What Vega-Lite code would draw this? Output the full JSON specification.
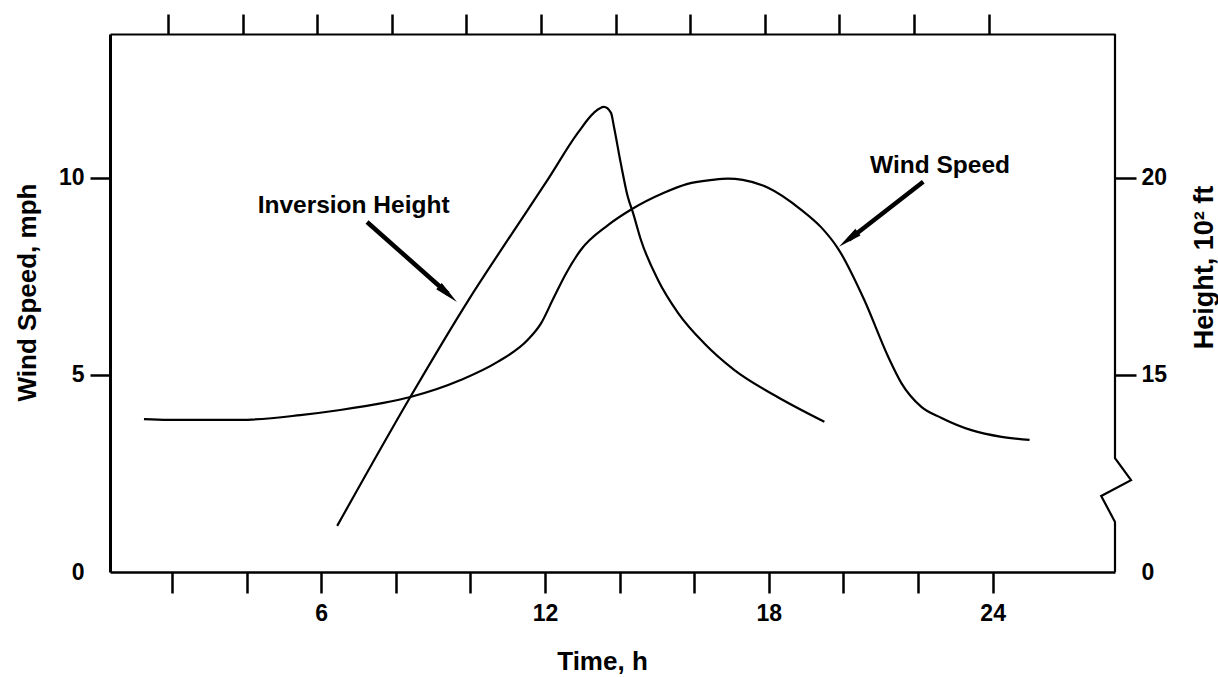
{
  "$schema": "https://vega.github.io/schema/vega-lite/v6.json",
  "width": 1005,
  "height": 538,
  "autosize": "none",
  "padding": {"left": 110, "top": 34, "right": 103, "bottom": 105},
  "background": "white",
  "config": {
    "view": {"stroke": null},
    "font": "Liberation Sans",
    "axis": {
      "grid": false,
      "domainColor": "black",
      "tickColor": "black",
      "labelColor": "black",
      "titleColor": "black",
      "labelFont": "Liberation Sans",
      "titleFont": "Liberation Sans",
      "labelFontWeight": "bold",
      "titleFontWeight": "bold",
      "labelFontSize": 23,
      "titleFontSize": 26,
      "domainWidth": 2.5,
      "tickWidth": 2.5,
      "tickSize": 21
    }
  },
  "datasets": {
    "wind": [
      {"t": 1.25, "v": 3.88}, {"t": 1.89, "v": 3.86}, {"t": 3.83, "v": 3.86}, {"t": 5.44, "v": 3.98},
      {"t": 6.51, "v": 4.11}, {"t": 7.67, "v": 4.29}, {"t": 8.39, "v": 4.44}, {"t": 9.74, "v": 4.87},
      {"t": 10.73, "v": 5.33}, {"t": 11.54, "v": 5.89}, {"t": 11.89, "v": 6.3}, {"t": 12.23, "v": 6.95},
      {"t": 12.55, "v": 7.55}, {"t": 12.96, "v": 8.17}, {"t": 13.69, "v": 8.8}, {"t": 14.3, "v": 9.19},
      {"t": 15.19, "v": 9.62}, {"t": 15.8, "v": 9.84}, {"t": 16.5, "v": 9.95}, {"t": 16.9, "v": 9.98},
      {"t": 17.3, "v": 9.95}, {"t": 17.98, "v": 9.75}, {"t": 18.87, "v": 9.19}, {"t": 19.4, "v": 8.75},
      {"t": 19.86, "v": 8.2}, {"t": 20.56, "v": 6.9}, {"t": 21.2, "v": 5.46}, {"t": 21.55, "v": 4.8},
      {"t": 22.09, "v": 4.19}, {"t": 22.63, "v": 3.91}, {"t": 23.43, "v": 3.6}, {"t": 24.24, "v": 3.43},
      {"t": 24.99, "v": 3.35}
    ],
    "inversion": [
      {"t": 6.43, "h": 11.17}, {"t": 8.39, "h": 14.44}, {"t": 9.95, "h": 16.9}, {"t": 11.16, "h": 18.65},
      {"t": 12.07, "h": 19.95}, {"t": 12.88, "h": 21.14}, {"t": 13.31, "h": 21.65}, {"t": 13.58, "h": 21.8},
      {"t": 13.77, "h": 21.65}, {"t": 13.85, "h": 21.29}, {"t": 14.03, "h": 20.38}, {"t": 14.22, "h": 19.52},
      {"t": 14.36, "h": 19.11}, {"t": 14.57, "h": 18.43}, {"t": 15.03, "h": 17.41}, {"t": 15.57, "h": 16.57},
      {"t": 16.26, "h": 15.81}, {"t": 17.07, "h": 15.13}, {"t": 18.14, "h": 14.49}, {"t": 19.49, "h": 13.81}
    ],
    "edge": [
      {"i": 0, "t": 27.28, "v": 13.65}, {"i": 1, "t": 27.28, "v": 2.89}, {"i": 2, "t": 27.71, "v": 2.33},
      {"i": 3, "t": 26.91, "v": 1.93}, {"i": 4, "t": 27.28, "v": 1.27}, {"i": 5, "t": 27.28, "v": 0}
    ],
    "arrows": [
      {"label": "Inversion Height", "t": 7.23, "v": 8.88, "t2": 9.4, "v2": 7.06},
      {"label": "Wind Speed", "t": 22.14, "v": 9.9, "t2": 20.14, "v2": 8.43}
    ],
    "heads": [
      {"label": "Inversion Height", "t": 9.64, "v": 6.85},
      {"label": "Wind Speed", "t": 19.88, "v": 8.25}
    ],
    "labels": [
      {"label": "Inversion Height", "t": 6.87, "v": 9.11},
      {"label": "Wind Speed", "t": 22.59, "v": 10.13}
    ]
  },
  "resolve": {"scale": {"x": "independent", "y": "independent"}},
  "layer": [
    {
      "encoding": {
        "x": {
          "field": "t", "type": "quantitative", "title": "Time, h",
          "scale": {"domain": [0.34, 27.28], "nice": false, "zero": false},
          "axis": {
            "orient": "bottom",
            "values": [2, 4, 6, 8, 10, 12, 14, 16, 18, 20, 22, 24],
            "labelExpr": "datum.value % 6 === 0 ? datum.label : ''",
            "tickSize": 21,
            "labelPadding": 9,
            "labelDx": 7,
            "titleX": 492,
            "titleY": 97,
            "titleBaseline": "alphabetic",
            "titleAlign": "center"
          }
        },
        "y": {
          "field": "v", "type": "quantitative", "title": "Wind Speed, mph",
          "scale": {"domain": [0, 13.65], "nice": false, "zero": false},
          "axis": {
            "orient": "left",
            "values": [0, 5, 10],
            "tickSize": 20,
            "labelPadding": 6,
            "domainWidth": 3,
            "tickOpacity": {"condition": {"test": "datum.value === 0", "value": 0}, "value": 1},
            "titleAngle": -90,
            "titleX": -75,
            "titleY": 258,
            "titleBaseline": "alphabetic",
            "titleAlign": "center"
          }
        }
      },
      "layer": [
        {
          "data": {"name": "wind"},
          "mark": {"type": "line", "interpolate": "monotone", "color": "black", "strokeWidth": 2.2}
        },
        {
          "data": {"name": "edge"},
          "mark": {"type": "line", "color": "black", "strokeWidth": 2.2},
          "encoding": {"order": {"field": "i", "type": "quantitative"}}
        },
        {
          "data": {"name": "arrows"},
          "mark": {"type": "rule", "color": "black", "strokeWidth": 4.5},
          "encoding": {"x2": {"field": "t2"}, "y2": {"field": "v2"}}
        },
        {
          "data": {"name": "heads"},
          "transform": [{"filter": "datum.label === 'Inversion Height'"}],
          "mark": {"type": "point", "shape": "M0,0L-0.35,2L0.35,2Z", "filled": true, "color": "black", "opacity": 1, "size": 576, "angle": 131.6, "strokeWidth": 0}
        },
        {
          "data": {"name": "heads"},
          "transform": [{"filter": "datum.label === 'Wind Speed'"}],
          "mark": {"type": "point", "shape": "M0,0L-0.35,2L0.35,2Z", "filled": true, "color": "black", "opacity": 1, "size": 576, "angle": 232.3, "strokeWidth": 0}
        },
        {
          "data": {"name": "labels"},
          "mark": {"type": "text", "font": "Liberation Sans", "fontWeight": "bold", "fontSize": 24.5, "align": "center", "baseline": "alphabetic", "color": "black"},
          "encoding": {"text": {"field": "label"}}
        }
      ]
    },
    {
      "data": {"name": "inversion"},
      "mark": {"type": "line", "interpolate": "monotone", "color": "black", "strokeWidth": 2.2},
      "encoding": {
        "x": {
          "field": "t", "type": "quantitative",
          "scale": {"domain": [0.34, 27.28], "nice": false, "zero": false},
          "axis": {
            "orient": "top",
            "values": [2, 4, 6, 8, 10, 12, 14, 16, 18, 20, 22, 24],
            "labels": false,
            "title": null,
            "tickSize": 20,
            "tickOffset": -4,
            "domainWidth": 2.2
          }
        },
        "y": {
          "field": "h", "type": "quantitative",
          "scale": {"domain": [10, 23.65], "nice": false, "zero": false},
          "axis": {
            "orient": "right",
            "values": [10, 15, 20],
            "labelExpr": "datum.value === 10 ? '0' : datum.label",
            "tickOpacity": {"condition": {"test": "datum.value === 10", "value": 0}, "value": 1},
            "domain": false,
            "tickSize": 21,
            "labelPadding": 5,
            "title": "Height, 10² ft",
            "titleFontSize": 27,
            "titleAngle": -90,
            "titleX": 97,
            "titleY": 233,
            "titleBaseline": "alphabetic",
            "titleAlign": "center"
          }
        }
      }
    }
  ]
}
